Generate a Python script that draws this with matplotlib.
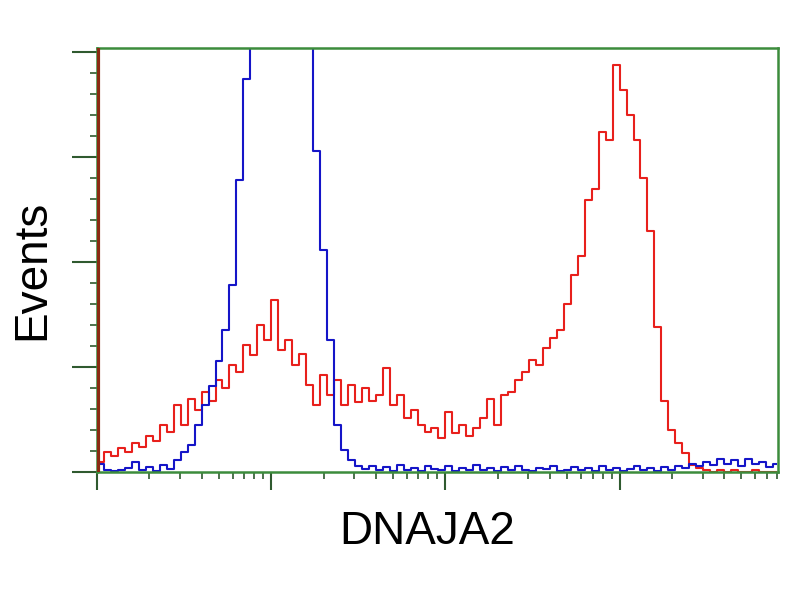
import numpy as np
import matplotlib
matplotlib.use("Agg")
import matplotlib.pyplot as plt
from matplotlib.ticker import LogLocator, MultipleLocator, NullFormatter

# histogram channels: 25 bins per decade, from 10^0 up to ~10^3.91
bins_per_decade = 25
n_bins = 98

# red: stained sample (events per bin)
red_counts = [5, 9.5, 7.6, 11.4, 9.5, 13.8, 11.9, 17, 14.8, 22.4,
              19, 32, 22.4, 35, 29.5, 38, 34, 44, 40, 51,
              47.6, 60.5, 55.7, 70, 62.9, 82, 58, 63, 51, 56,
              41.4, 32, 46, 36.7, 43.8, 32, 41.4, 33.3, 40, 34,
              36.7, 49.5, 32, 36.7, 25.7, 29.5, 22.4, 19, 21, 16.2,
              28.6, 18.6, 22.4, 17, 21, 25.7, 35, 22.4, 36.7, 38,
              44, 47.6, 53.3, 51, 59, 63.8, 67.6, 80, 94, 103,
              129.5, 135, 162, 158, 194, 182, 170, 158, 140, 115,
              69, 34, 20, 14, 9, 3.3, 2, 1, 0, 1,
              0, 1, 0, 0, 1, 0, 0, 0]

# blue: isotype control (peak goes off scale)
blue_counts = [4, 1, 0.5, 1, 2, 4.8, 1, 2.4, 0.5, 3.3,
               1.4, 5.7, 9.5, 12.9, 22.4, 32, 41, 53, 67.6, 89,
               139, 187, 250, 250, 250, 250, 250, 250, 250, 250,
               215, 153, 105.7, 63, 22.4, 10.5, 5.7, 2.9, 1.5, 3,
               1, 2.5, 0.5, 3.5, 1, 2, 0.5, 3, 1.5, 1, 3,
               0.5, 2, 1, 3.5, 1, 2, 0.5, 2.5, 1, 3,
               1, 0.5, 2, 1.5, 3, 0.5, 1, 2.5, 1, 2,
               0.5, 3, 1, 2, 0.5, 1.5, 3, 1, 2, 0.5,
               2.5, 1, 3, 2, 4, 3, 5, 3.5, 6, 4,
               5.5, 3, 6, 4, 5, 2.5, 4]

# unstained events piled up in the first channel
spike_channel = [1.02]
spike_counts = [1000]

channels = 10 ** ((np.arange(n_bins) + 0.5) / bins_per_decade)
x_max = 10 ** (n_bins / bins_per_decade - 0.01)

green = "#3c8c3c"
tick_col = "#2f5a2f"

fig = plt.figure(figsize=(8, 6), dpi=100)
ax = fig.add_axes([97 / 800, 1 - 472 / 600, 681 / 800, 424 / 600])

ax.plot(channels, red_counts[:n_bins], drawstyle="steps-mid", color="#e8201c", lw=1.5)
ax.plot(channels, blue_counts[:n_bins], drawstyle="steps-mid", color="#1515c8", lw=1.5)
ax.vlines(spike_channel, 0, spike_counts, color="#8b2a12", lw=3, zorder=5)

ax.set_xscale("log")
ax.set_xlim(1, x_max)
ax.set_ylim(0, 202)

ax.xaxis.set_major_locator(LogLocator(base=10, numticks=10))
ax.xaxis.set_minor_locator(LogLocator(base=10, subs=np.arange(2, 10), numticks=20))
ax.xaxis.set_major_formatter(NullFormatter())
ax.xaxis.set_minor_formatter(NullFormatter())
ax.yaxis.set_major_locator(MultipleLocator(50))
ax.yaxis.set_minor_locator(MultipleLocator(10))
ax.yaxis.set_major_formatter(NullFormatter())

ax.tick_params(axis="x", which="major", length=13, width=1.5, color=tick_col)
ax.tick_params(axis="x", which="minor", length=5, width=1.2, color=tick_col)
ax.tick_params(axis="y", which="major", length=18, width=1.5, color=tick_col)
ax.tick_params(axis="y", which="minor", length=5, width=1.2, color=tick_col)

for s in ax.spines.values():
    s.set_color(green)
    s.set_linewidth(1.8)

ax.set_xlabel("DNAJA2", fontsize=33, family="Liberation Sans")
ax.xaxis.set_label_coords(0.485, -0.09)
fig.text(32 / 800, 1 - 270 / 600, "Events", rotation=90, ha="center", va="center",
         fontsize=33, family="Liberation Sans")

fig.savefig("out.png", dpi=100)
